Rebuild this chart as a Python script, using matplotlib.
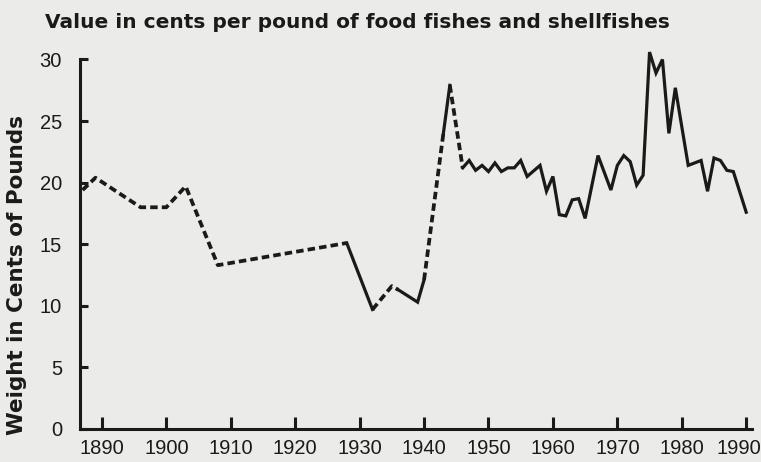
import numpy as np
from matplotlib import pyplot as plt
from matplotlib import transforms

# value in cents per pound
years = [1887, 1889, 1896, 1900, 1903, 1908, 1928, 1932, 1935, 1936, 1939, 1940,
         1943, 1944, 1946, 1947, 1948, 1949, 1950, 1951, 1952, 1953, 1954, 1955,
         1956, 1958, 1959, 1960, 1961, 1962, 1963, 1964, 1965, 1967, 1969, 1970,
         1971, 1972, 1973, 1974, 1975, 1976, 1977, 1978, 1979, 1981, 1983, 1984,
         1985, 1986, 1987, 1988, 1990]
cents = [19.4, 20.4, 18.0, 18.0, 19.7, 13.3, 15.1, 9.7, 11.6, 11.3, 10.3, 12.1,
         24.0, 27.9, 21.2, 21.8, 21.0, 21.4, 20.9, 21.6, 20.9, 21.2, 21.2, 21.8,
         20.5, 21.4, 19.3, 20.5, 17.4, 17.3, 18.6, 18.7, 17.1, 22.2, 19.4, 21.4,
         22.2, 21.7, 19.8, 20.6, 30.6, 28.9, 30.0, 24.0, 27.7, 21.4, 21.8, 19.3,
         22.0, 21.8, 21.0, 20.9, 17.6]
# segments starting at these years are estimates (dashed)
dashed_from = [1887, 1889, 1896, 1900, 1903, 1908, 1932, 1935, 1940, 1944]

xticks = [1890, 1900, 1910, 1920, 1930, 1940, 1950, 1960, 1970, 1980, 1990]
yticks = [0, 5, 10, 15, 20, 25, 30]

bg = '#ebebe9'
ink = '#1a1a1a'
plt.rcParams['font.family'] = ['Liberation Sans', 'DejaVu Sans']

fig = plt.figure(figsize=(7.61, 4.62), dpi=100, facecolor=bg)
ax = fig.add_axes([80 / 761, 33 / 462, 672 / 761, 372 / 462])
ax.set_facecolor(bg)

# group consecutive segments with the same style
i = 0
n = len(years)
while i < n - 1:
    est = years[i] in dashed_from
    j = i
    while j < n - 1 and (years[j] in dashed_from) == est:
        j += 1
    if est:
        ax.plot(years[i:j + 1], cents[i:j + 1], color=ink, lw=2.7,
                linestyle=(0, (2.0, 1.1)), clip_on=False)
    else:
        ax.plot(years[i:j + 1], cents[i:j + 1], color=ink, lw=2.3,
                clip_on=False, solid_joinstyle='miter')
    i = j

ax.set_xlim(1886.6, 1990.9)
ax.set_ylim(0, 30.2)
ax.spines['top'].set_visible(False)
ax.spines['right'].set_visible(False)
for s in ['left', 'bottom']:
    ax.spines[s].set_linewidth(2.2)
    ax.spines[s].set_color(ink)
ax.spines['left'].set_bounds(0, 30)

ax.set_xticks(xticks)
ax.set_yticks(yticks)
ax.tick_params(axis='x', direction='in', length=9, width=2.2, pad=7,
               labelsize=14.5, colors=ink)
ax.tick_params(axis='y', direction='in', length=6, width=2.2, pad=13,
               labelsize=14.5, colors=ink)
# keep the last year label inside the picture
last = ax.get_xticklabels()[-1]
last.set_transform(last.get_transform() +
                   transforms.ScaledTranslation(-7 / 100, 0, fig.dpi_scale_trans))

fig.text(17 / 761, 1 - 275 / 462, 'Weight in Cents of Pounds', rotation=90,
         fontsize=15.5, fontweight='bold', color=ink, ha='center', va='center',
         family='DejaVu Sans')
fig.text(45 / 761, 1 - 22 / 462, 'Value in cents per pound of food fishes and shellfishes',
         fontsize=14.5, fontweight='bold', color=ink, va='center', ha='left',
         family='DejaVu Sans')

fig.savefig('out.png', dpi=100, facecolor=bg)
